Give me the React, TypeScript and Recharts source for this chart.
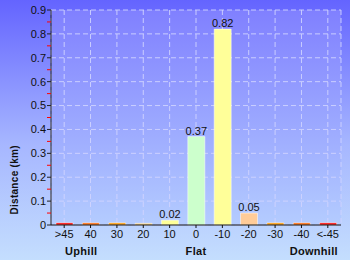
import React from 'react';
import { BarChart, Bar, XAxis, YAxis, CartesianGrid, Cell, LabelList } from 'recharts';

const categories = ['>45', '40', '30', '20', '10', '0', '-10', '-20', '-30', '-40', '<-45'];
const distances = [0.009, 0.009, 0.009, 0.007, 0.02, 0.37, 0.82, 0.05, 0.009, 0.009, 0.009];
const valueLabels = ['', '', '', '', '0.02', '0.37', '0.82', '0.05', '', '', ''];
const groupLabels = ['Uphill', '', '', '', '', 'Flat', '', '', '', '', 'Downhill'];
const barColors = ['#ff0000', '#ff6600', '#ff9900', '#ffcc66', '#ffff99', '#ccffcc', '#ffff99', '#ffcc99', '#ff9900', '#ff6600', '#ff0000'];
const majorTicks = [0, 0.1, 0.2, 0.3, 0.4, 0.5, 0.6, 0.7, 0.8, 0.9];
const minorTicks = [0.05, 0.15, 0.25, 0.35, 0.45, 0.55, 0.65, 0.75, 0.85];
const majorLabels = ['0', '0.1', '0.2', '0.3', '0.4', '0.5', '0.6', '0.7', '0.8', '0.9'];

const data = categories.map((c, i) => ({
  cat: c,
  group: groupLabels[i],
  distance: distances[i],
  label: valueLabels[i],
}));

const allTicks = [...majorTicks, ...minorTicks].sort((a, b) => a - b);
const FONT = '"Liberation Sans", Arial, sans-serif';

const YTick = (props: any) => {
  const { x, y, payload } = props;
  const idx = majorTicks.findIndex((t) => Math.abs(t - payload.value) < 1e-6);
  const isMajor = idx >= 0;
  return (
    <g>
      <line x1={x} x2={x + 4} y1={y} y2={y} stroke={isMajor ? '#222' : '#ff0000'} strokeWidth={1} />
      {isMajor && (
        <text x={x - 1} y={y} dy="0.35em" textAnchor="end" fontSize={11} fontFamily={FONT} fill="#111">
          {majorLabels[idx]}
        </text>
      )}
    </g>
  );
};

const GroupTick = (props: any) => {
  const { x, y, payload, index } = props;
  if (!payload.value) return null;
  const dx = index === 0 ? 17 : index === categories.length - 1 ? -14 : 0;
  return (
    <text x={x + dx} y={y + 2} dy="0.71em" textAnchor="middle" fontSize={11} fontWeight="bold" fontFamily={FONT} fill="#111" letterSpacing={0.3}>
      {payload.value}
    </text>
  );
};

const YLabel = (props: any) => {
  const { viewBox } = props;
  const cx = 15;
  const cy = viewBox.y + viewBox.height * 0.79;
  return (
    <text x={cx} y={cy} transform={`rotate(-90 ${cx} ${cy})`} textAnchor="middle" dy="0.35em" fontSize={10} fontWeight="bold" fontFamily={FONT} fill="#111" letterSpacing={0.3}>
      Distance (km)
    </text>
  );
};

export default function App() {
  return (
    <div
      style={{
        position: 'absolute',
        left: 0,
        top: 0,
        width: 350,
        height: 260,
        background: 'linear-gradient(to bottom, #6464ff 0%, #a6b6ff 55%, #c4defe 100%)',
      }}
    >
      <svg width={0} height={0} style={{ position: 'absolute' }}>
        <defs>
          <linearGradient id="plotGrad" x1="0" y1="0" x2="0" y2="1">
            <stop offset="0%" stopColor="#8080ff" />
            <stop offset="100%" stopColor="#b4ccff" />
          </linearGradient>
        </defs>
      </svg>
      <BarChart width={350} height={260} data={data} margin={{ top: 10, right: 9, left: 0, bottom: 0 }} barSize={17}>
        <CartesianGrid
          fill="url(#plotGrad)"
          fillOpacity={1}
          stroke="#d0d4ff"
          strokeOpacity={0.9}
          strokeDasharray="5 3"
          horizontalValues={majorTicks}
        />
        <YAxis
          width={51}
          domain={[0, 0.9]}
          ticks={allTicks}
          interval={0}
          tickSize={4}
          tickMargin={0}
          tickLine={false}
          axisLine={{ stroke: '#222' }}
          tick={<YTick />}
          label={<YLabel />}
        />
        <XAxis
          dataKey="cat"
          height={20}
          interval={0}
          tickSize={3}
          tickMargin={2}
          axisLine={{ stroke: '#111' }}
          tickLine={{ stroke: '#111' }}
          tick={{ fontSize: 11, fill: '#111', fontFamily: FONT }}
        />
        <XAxis
          xAxisId="group"
          dataKey="group"
          height={15}
          interval={0}
          tickSize={0}
          tickMargin={0}
          axisLine={false}
          tickLine={false}
          tick={<GroupTick />}
        />
        <Bar dataKey="distance" isAnimationActive={false} stroke="#ffffff" strokeOpacity={0.5}>
          {data.map((d, i) => (
            <Cell key={d.cat} fill={barColors[i]} />
          ))}
          <LabelList dataKey="label" position="top" offset={2} fontSize={11} fill="#111" fontFamily={FONT} />
        </Bar>
      </BarChart>
    </div>
  );
}
